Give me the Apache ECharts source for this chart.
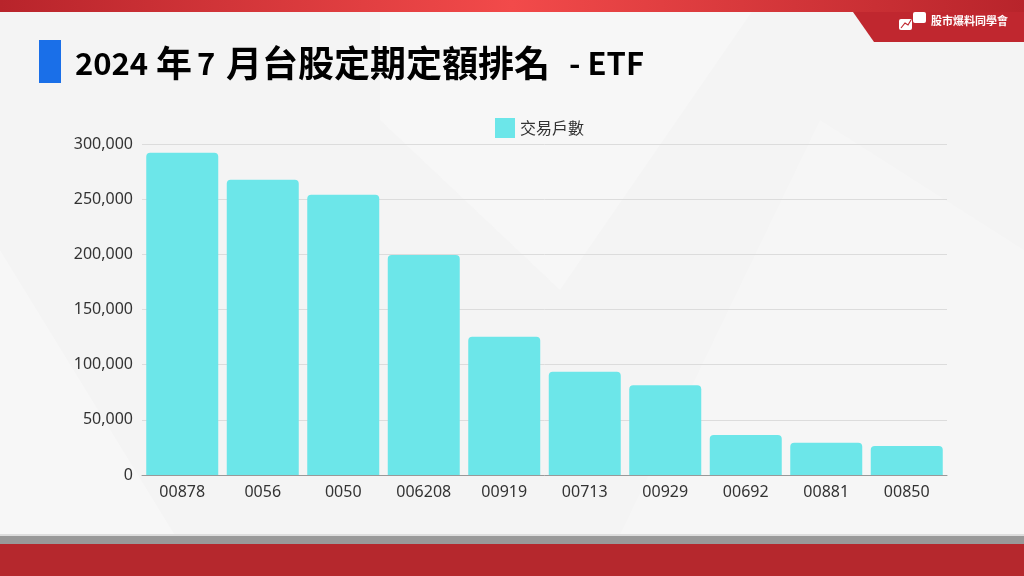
<!DOCTYPE html>
<html><head><meta charset="utf-8">
<script src="https://cdn.jsdelivr.net/npm/echarts@6/dist/echarts.min.js"></script>
<style>html,body{margin:0;padding:0;background:#f4f4f4}#c{width:1024px;height:576px}</style>
</head><body><div id="c"></div>
<script>
const categories = ['00878','0056','0050','006208','00919','00713','00929','00692','00881','00850'];
const values = [292000, 267500, 254000, 199500, 125300, 93600, 81300, 36300, 29300, 26300];
const seriesName = '交易戶數';
const titleParts = ['2024', '年', '7', '月台股定期定額排名', '- ETF'];
const logoText = '股市爆料同學會';

const titleFont = 'bold 36px "Noto Sans CJK TC"';
const digitFont = 'bold 31px "Noto Sans CJK TC"';
const titleX = [75, 156, 197, 226, 569];
const titleFonts = [digitFont, titleFont, digitFont, titleFont, digitFont];

const chart = echarts.init(document.getElementById('c'));
const titleGraphics = titleParts.map((t, i) => ({
  type:'text', z:5,
  style:{x:titleX[i], y:63, text:t, fill:'#000', font:titleFonts[i], textVerticalAlign:'middle'}
}));
chart.setOption({
  backgroundColor: '#f4f4f4',
  animation: false,
  graphic: [
    {type:'polygon', z:-10, shape:{points:[[380,0],[760,0],[560,290],[380,120]]}, style:{fill:'rgba(255,255,255,0.25)'}},
    {type:'polygon', z:-10, shape:{points:[[600,576],[1024,576],[1024,250],[820,120]]}, style:{fill:'rgba(255,255,255,0.2)'}},
    {type:'polygon', z:-10, shape:{points:[[0,250],[200,576],[0,576]]}, style:{fill:'rgba(255,255,255,0.25)'}},
    {type:'rect', z:5, shape:{x:0,y:0,width:1024,height:12}, style:{fill:new echarts.graphic.LinearGradient(0,0,1,0,[{offset:0,color:'#b8242b'},{offset:0.5,color:'#f24a4a'},{offset:1,color:'#b8242b'}])}},
    {type:'polygon', z:5, shape:{points:[[853,12],[1024,12],[1024,42],[874,42]]}, style:{fill:'#c0272f'}},
    {type:'rect', z:6, shape:{x:913,y:12,width:13,height:11,r:2}, style:{fill:'#fff'}},
    {type:'rect', z:6, shape:{x:899,y:19,width:13,height:11,r:2}, style:{fill:'#fff'}},
    {type:'polyline', z:7, shape:{points:[[901,28],[905,23],[908,25],[911,20]]}, style:{stroke:'#c0272f',lineWidth:1.2,fill:null}},
    {type:'text', z:6, style:{x:931,y:21,text:logoText,fill:'#fff',font:'bold 11px "Noto Sans CJK TC"',textVerticalAlign:'middle'}},
    {type:'rect', z:5, shape:{x:39,y:40,width:22,height:43}, style:{fill:'#1a6fe8'}},
    ...titleGraphics,
    {type:'rect', z:5, shape:{x:0,y:534,width:1024,height:2}, style:{fill:'#dddddd'}},
    {type:'rect', z:5, shape:{x:0,y:536,width:1024,height:8}, style:{fill:'#999999'}},
    {type:'rect', z:5, shape:{x:0,y:544,width:1024,height:32}, style:{fill:'#b5282d'}}
  ],
  legend: {
    top: 113, left: 490,
    itemWidth: 20, itemHeight: 20, icon: 'rect', itemGap: 10,
    textStyle:{fontSize:16,color:'#333',fontFamily:'Noto Sans CJK TC'},
    data:[seriesName]
  },
  grid: {left:142, right:77, top:144, bottom:101},
  xAxis: {
    type:'category', data:categories,
    axisLine:{lineStyle:{color:'#999'}},
    axisTick:{show:false},
    axisLabel:{fontSize:16,color:'#333',margin:9,fontFamily:'Noto Sans'}
  },
  yAxis: {
    type:'value', min:0, max:300000, interval:50000,
    axisLabel:{fontSize:16,color:'#333',margin:9,fontFamily:'Noto Sans',formatter:v=>v.toLocaleString('en-US')},
    splitLine:{lineStyle:{color:'#dcdcdc'}}
  },
  series: [{
    name: seriesName, type:'bar', data:values,
    barWidth: 72,
    itemStyle:{color:'#6ce6e9',borderRadius:[4,4,0,0]}
  }]
});
</script></body></html>
